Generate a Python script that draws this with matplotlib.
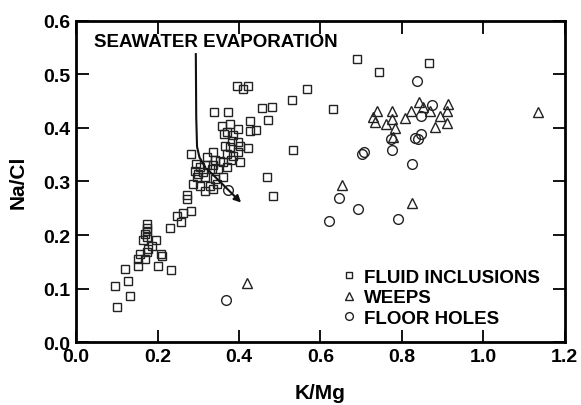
import matplotlib
matplotlib.use("Agg")
import matplotlib.pyplot as plt

plt.rcParams['font.family'] = ['Liberation Sans', 'DejaVu Sans']
plt.rcParams['font.weight'] = 'bold'

# fluid inclusions (squares)
fi_k = [0.100, 0.133, 0.096, 0.127, 0.120, 0.153, 0.153, 0.169, 0.157, 0.173,
        0.202, 0.233, 0.212, 0.209, 0.176, 0.186, 0.196, 0.165, 0.173, 0.169,
        0.173, 0.173, 0.173, 0.231, 0.258, 0.247, 0.263, 0.282, 0.272, 0.272,
        0.288, 0.304, 0.299,
        0.396, 0.411, 0.421, 0.339, 0.374, 0.456, 0.480, 0.472, 0.427, 0.358,
        0.378, 0.398, 0.427, 0.443, 0.364, 0.370, 0.386, 0.382, 0.398, 0.366,
        0.378, 0.402, 0.423, 0.398, 0.386, 0.370, 0.361, 0.380, 0.402, 0.281,
        0.337, 0.321, 0.341, 0.353, 0.370, 0.294, 0.304, 0.321, 0.337, 0.292,
        0.312, 0.333, 0.349, 0.296, 0.317, 0.341, 0.361, 0.329, 0.345, 0.317,
        0.337, 0.468, 0.484, 0.533, 0.531, 0.566, 0.689, 0.744, 0.867, 0.631]
fi_n = [0.065, 0.087, 0.105, 0.115, 0.136, 0.143, 0.155, 0.155, 0.164, 0.168,
        0.143, 0.135, 0.160, 0.164, 0.174, 0.180, 0.191, 0.191, 0.196, 0.202,
        0.208, 0.214, 0.221, 0.214, 0.224, 0.236, 0.241, 0.245, 0.267, 0.275,
        0.295, 0.292, 0.314,
        0.478, 0.472, 0.479, 0.430, 0.429, 0.437, 0.439, 0.414, 0.413, 0.404,
        0.407, 0.398, 0.395, 0.397, 0.389, 0.392, 0.386, 0.376, 0.373, 0.367,
        0.364, 0.367, 0.363, 0.355, 0.348, 0.351, 0.337, 0.341, 0.336, 0.351,
        0.355, 0.345, 0.341, 0.339, 0.327, 0.333, 0.327, 0.330, 0.330, 0.320,
        0.317, 0.323, 0.323, 0.308, 0.308, 0.305, 0.308, 0.292, 0.295, 0.283,
        0.286, 0.308, 0.273, 0.358, 0.452, 0.472, 0.528, 0.505, 0.521, 0.436]

# weeps (triangles)
wp_k = [1.135, 0.738, 0.775, 0.728, 0.734, 0.762, 0.775, 0.783, 0.779, 0.807,
        0.822, 0.842, 0.852, 0.869, 0.893, 0.910, 0.914, 0.881, 0.912, 0.654,
        0.825, 0.420]
wp_n = [0.430, 0.432, 0.432, 0.421, 0.412, 0.407, 0.417, 0.400, 0.383, 0.418,
        0.432, 0.449, 0.439, 0.432, 0.422, 0.432, 0.445, 0.401, 0.409, 0.293,
        0.260, 0.110]

# floor holes (circles)
fh_k = [0.838, 0.875, 0.848, 0.773, 0.777, 0.832, 0.848, 0.840, 0.824, 0.701,
        0.707, 0.646, 0.693, 0.622, 0.791, 0.374, 0.368]
fh_n = [0.487, 0.442, 0.423, 0.379, 0.358, 0.381, 0.389, 0.379, 0.333, 0.351,
        0.355, 0.270, 0.249, 0.226, 0.229, 0.285, 0.079]

# seawater evaporation path
sw_k = [0.294, 0.295, 0.297, 0.303, 0.317, 0.410]
sw_n = [0.538, 0.420, 0.365, 0.345, 0.327, 0.257]

fig = plt.figure(figsize=(5.81, 4.06), dpi=100)
ax = fig.add_axes([0.131, 0.155, 0.841, 0.791])

mk = dict(linestyle='none', markerfacecolor='none', markeredgecolor='#222222',
          markeredgewidth=1.0)
ax.plot(fi_k, fi_n, marker='s', markersize=6, label='FLUID INCLUSIONS', **mk)
ax.plot(wp_k, wp_n, marker='^', markersize=7, label='WEEPS', **mk)
ax.plot(fh_k, fh_n, marker='o', markersize=7, label='FLOOR HOLES', **mk)

ax.plot(sw_k[:-1], sw_n[:-1], color='#111111', lw=1.5)
ax.annotate('', xy=(sw_k[-1], sw_n[-1]), xytext=(sw_k[-2], sw_n[-2]),
            arrowprops=dict(arrowstyle='-|>', color='#111111', lw=1.5,
                            mutation_scale=10))
ax.text(0.043, 0.562, 'SEAWATER EVAPORATION', fontsize=13.5, fontweight='bold',
        va='center', ha='left')

ax.set_xlim(0, 1.2)
ax.set_ylim(0, 0.6)
ax.set_xticks([0.0, 0.2, 0.4, 0.6, 0.8, 1.0, 1.2])
ax.set_yticks([0.0, 0.1, 0.2, 0.3, 0.4, 0.5, 0.6])
ax.set_xticklabels(['0.0', '0.2', '0.4', '0.6', '0.8', '1.0', '1.2'])
ax.set_yticklabels(['0.0', '0.1', '0.2', '0.3', '0.4', '0.5', '0.6'])
ax.tick_params(direction='in', length=9, width=1.3, top=True, right=True,
               labelsize=14, pad=4)
for s in ax.spines.values():
    s.set_linewidth(2)
ax.set_xlabel('K/Mg', fontsize=15, fontweight='bold')
ax.set_ylabel('Na/Cl', fontsize=15, fontweight='bold')
ax.xaxis.set_label_coords(0.5, -0.127)
ax.yaxis.set_label_coords(-0.1, 0.5)

leg = ax.legend(loc='upper left', bbox_to_anchor=(0.545, 0.228), frameon=False,
                fontsize=13.5, handlelength=0.7, handletextpad=0.45,
                labelspacing=0.17, markerscale=0.8, borderaxespad=0.0,
                borderpad=0.0)

fig.savefig('out.png', dpi=100)
